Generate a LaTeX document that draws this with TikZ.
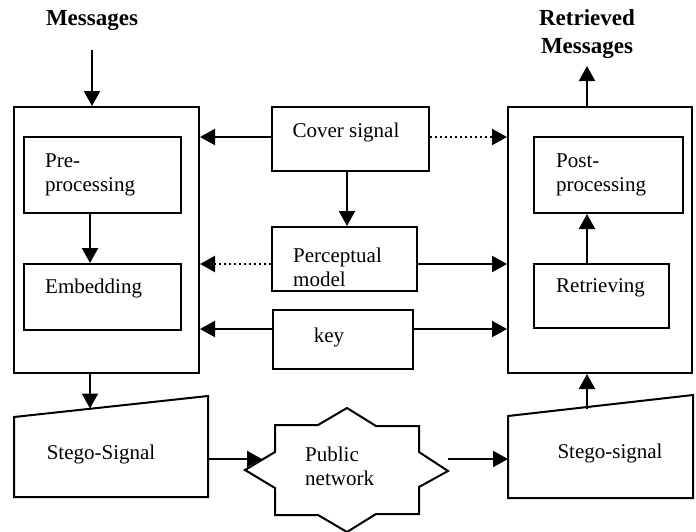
\documentclass[tikz,border=0pt]{standalone}
\usepackage{fontspec}
\setmainfont{Liberation Serif}
\usetikzlibrary{arrows.meta}
\begin{document}
\begin{tikzpicture}[x=1pt,y=-1pt,
  box/.style={draw, line width=2pt, minimum width=#1, inner sep=0pt},
  lbl/.style={inner sep=0pt, font=\fontsize{21}{24}\selectfont, align=left},
  ttl/.style={inner sep=0pt, font=\fontsize{23}{28}\selectfont\bfseries, align=center},
  arr/.style={line width=2.2pt, -{Triangle[length=15pt,width=16pt]}},
  dotarr/.style={arr, dash pattern=on 2pt off 3pt}]
\useasboundingbox (0,0) rectangle (696,531);
% big boxes
\node[box=185, minimum height=266] (lbox) at (106.5,240) {};
\node[box=184, minimum height=266] (rbox) at (600,240) {};
% inner boxes
\node[box=157, minimum height=76] (pre) at (102.5,175) {};
\node[box=157, minimum height=66] (emb) at (102.5,297) {};
\node[box=149, minimum height=76] (post) at (608.5,175) {};
\node[box=135, minimum height=64] (retr) at (601.5,296) {};
\node[box=157, minimum height=64] (cover) at (350.5,139) {};
\node[box=145, minimum height=64] (perc) at (344.5,259) {};
\node[box=140, minimum height=59] (key) at (343,339.5) {};
% labels
\node[ttl] (msg) at (92,21) {Messages};
\node[ttl] (rmsg) at (587,34) {Retrieved\\Messages};
\node[lbl, anchor=west] (pret) at (45,175) {Pre-\\processing};
\node[lbl, anchor=west] (embt) at (45,288) {Embedding};
\node[lbl, anchor=west] (postt) at (556,175) {Post-\\processing};
\node[lbl, anchor=west] (retrt) at (556,288) {Retrieving};
\node[lbl] (covert) at (346,132) {Cover signal};
\node[lbl, anchor=west] (perct) at (293,267) {Perceptual\\model};
\node[lbl] (keyt) at (329,337) {key};
% stego shapes
\draw[line width=2pt] (14,417) -- (208,396) -- (208,497) -- (14,497) -- cycle;
\draw[line width=2pt] (508,416) -- (693,395) -- (693,498) -- (508,498) -- cycle;
\node[lbl] (sl) at (101,454) {Stego-Signal};
\node[lbl] (sr) at (610,453) {Stego-signal};
\coordinate (slTop) at (90,408.5);
\coordinate (slRight) at (208,459);
\coordinate (srTop) at (587,409);
\coordinate (srLeft) at (508,459);
% public network star
\draw[line width=2pt] (347,408) -- (376,426) -- (419,426) -- (419,452) -- (448,471) -- (419,487) -- (419,514) -- (376,514) -- (347,532) -- (318,515) -- (275,515) -- (275,488) -- (245,470) -- (275,452) -- (275,425) -- (318,425) -- cycle;
\node[lbl, anchor=west] (net) at (305,466) {Public\\network};
\coordinate (netIn) at (262,459);
\coordinate (netOut) at (448,459);
% arrows
\draw[arr] ([yshift=-19]msg.south) -- (msg.south |- lbox.north);
\draw[arr] ([xshift=-12.5]pre.south) -- ([xshift=-12.5]emb.north);
\draw[arr] ([yshift=2]cover.west) -- ([yshift=2]cover.west -| lbox.east);
\draw[dotarr] ([yshift=2]cover.east) -- ([yshift=2]cover.east -| rbox.west);
\draw[arr] ([xshift=-3.5]cover.south) -- ([xshift=-3.5]cover.south |- perc.north);
\draw[dotarr] ([yshift=-5]perc.west) -- ([yshift=-5]perc.west -| lbox.east);
\draw[arr] ([yshift=-5]perc.east) -- ([yshift=-5]perc.east -| rbox.west);
\draw[arr] ([yshift=10.5]key.west) -- ([yshift=10.5]key.west -| lbox.east);
\draw[arr] ([yshift=10.5]key.east) -- ([yshift=10.5]key.east -| rbox.west);
\draw[arr] ([xshift=-14.5]retr.north) -- ([xshift=-14.5]retr.north |- post.south);
\draw[arr] ([xshift=-13]rbox.north) -- ([xshift=-13,yshift=40]rbox.north);
\draw[arr] (lbox.south -| slTop) -- (slTop);
\draw[arr] (srTop) -- (srTop |- rbox.south);
\draw[arr] (slRight) -- (netIn);
\draw[arr] (netOut) -- (srLeft);
\end{tikzpicture}
\end{document}
